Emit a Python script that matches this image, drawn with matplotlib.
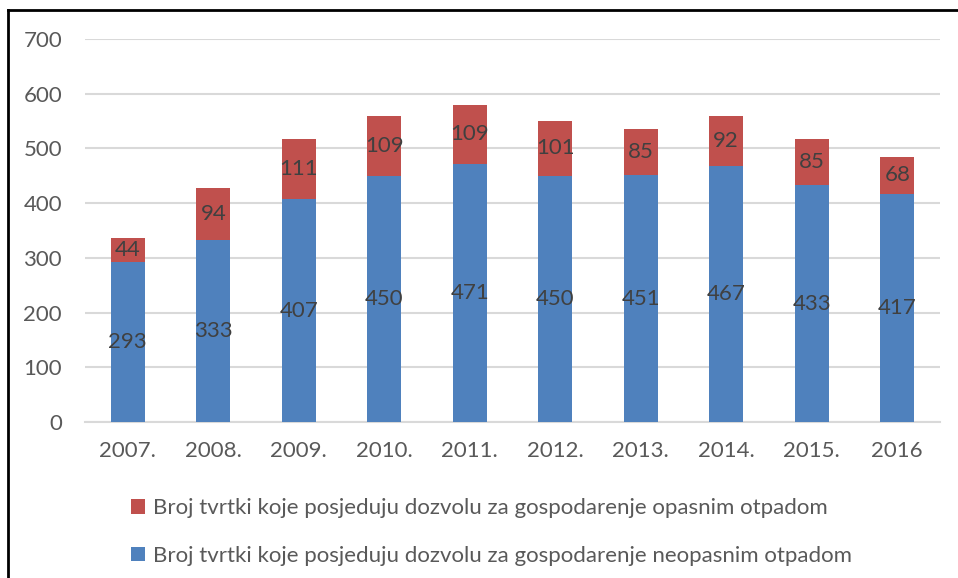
import matplotlib.pyplot as plt
import numpy as np
from matplotlib.lines import Line2D
from matplotlib.patches import Patch

years = ['2007.', '2008.', '2009.', '2010.', '2011.', '2012.', '2013.', '2014.', '2015.', '2016']
neopasni = [293, 333, 407, 450, 471, 450, 451, 467, 433, 417]
opasni = [44, 94, 111, 109, 109, 101, 85, 92, 85, 68]

label_opasni = 'Broj tvrtki koje posjeduju dozvolu za gospodarenje opasnim otpadom'
label_neopasni = 'Broj tvrtki koje posjeduju dozvolu za gospodarenje neopasnim otpadom'

blue = '#4F81BD'
red = '#C0504D'
text_col = '#595959'
val_col = '#404040'
fs = 16

plt.rcParams['font.family'] = ['Lato', 'DejaVu Sans']

W, H = 958, 578
fig = plt.figure(figsize=(W / 100, H / 100), dpi=100)
ax = fig.add_axes([85 / W, 1 - 422 / H, (940 - 85) / W, (422 - 39) / H])

x = np.arange(len(years))
width = 0.40
b1 = ax.bar(x, neopasni, width, color=blue, zorder=3)
b2 = ax.bar(x, opasni, width, bottom=neopasni, color=red, zorder=3)

for vals, bottoms in [(neopasni, [0] * len(x)), (opasni, neopasni)]:
    for xi, v, b in zip(x, vals, bottoms):
        ax.text(xi, b + v / 2, str(v), ha='center', va='center',
                fontsize=fs, color=val_col, zorder=4)

ax.set_xlim(-0.5, len(years) - 0.5)
ax.set_ylim(0, 700)
ax.set_yticks(range(0, 701, 100))
ax.set_xticks(x)
ax.set_xticklabels(years)
ax.tick_params(axis='both', length=0, labelsize=fs, labelcolor=text_col)
ax.tick_params(axis='y', pad=16.5)
ax.tick_params(axis='x', pad=14)
ax.grid(True, axis='y', color='#D9D9D9', linewidth=1.5, zorder=0)
for s in ['top', 'right', 'left']:
    ax.spines[s].set_visible(False)
ax.spines['bottom'].set_color('#D9D9D9')
ax.spines['bottom'].set_linewidth(1.5)

handles = [Patch(facecolor=red), Patch(facecolor=blue)]
fig.legend(handles, [label_opasni, label_neopasni], loc='upper left',
           bbox_to_anchor=(111 / W, 1 - 478 / H), frameon=False,
           fontsize=fs, labelcolor=text_col, handlelength=0.65, handleheight=0.65,
           handletextpad=0.35, labelspacing=1.25)

# frame lines (top and left)
fig.add_artist(Line2D([8 / W, 1], [1 - 10 / H, 1 - 10 / H], color='black', linewidth=2))
fig.add_artist(Line2D([8 / W, 8 / W], [0, 1 - 10 / H], color='black', linewidth=2))

fig.savefig('out.png', dpi=100)
